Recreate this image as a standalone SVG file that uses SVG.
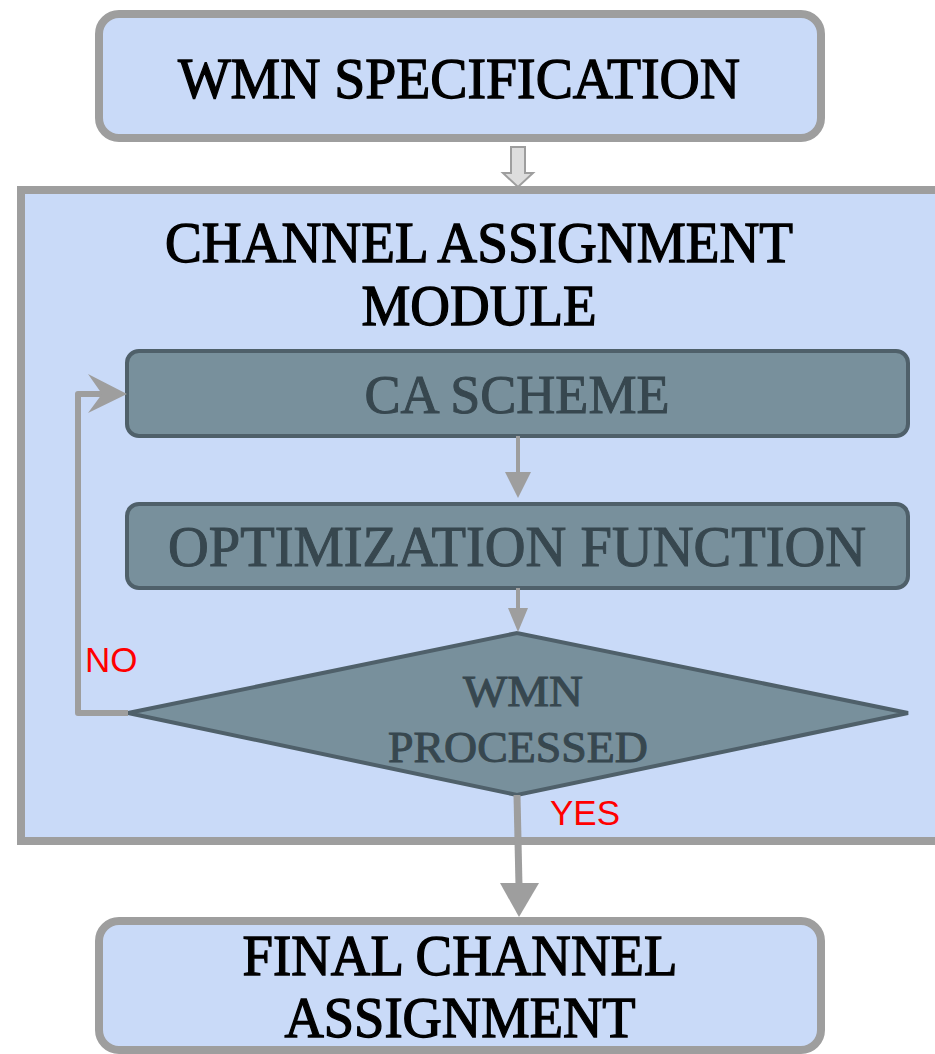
<svg xmlns="http://www.w3.org/2000/svg" width="935" height="1054" viewBox="0 0 935 1054">
  <style>
    .outer { fill: #c9daf8; stroke: #9e9e9e; stroke-width: 8; }
    .inner { fill: #78909c; stroke: #4f606a; stroke-width: 4; }
    .title { font-family: "Liberation Serif", "DejaVu Serif", serif; fill: #000; stroke: #000; stroke-width: 1.3; text-anchor: middle; }
    .step { font-family: "Liberation Serif", "DejaVu Serif", serif; fill: #37474f; stroke: #37474f; stroke-width: 1.0; text-anchor: middle; }
    .label { font-family: "Liberation Sans", Arial, sans-serif; fill: #ff0000; font-size: 35px; }
    .wire { fill: none; stroke: #9e9e9e; stroke-linejoin: round; }
    .head { fill: #9e9e9e; }
  </style>
  <rect width="935" height="1054" fill="#ffffff"/>

  <!-- Channel assignment module container (runs past the right edge) -->
  <g id="module">
    <rect class="outer" x="21" y="190" width="930" height="651"/>
    <text class="title" x="479" y="262" font-size="56" textLength="628" lengthAdjust="spacingAndGlyphs">CHANNEL ASSIGNMENT</text>
    <text class="title" x="479" y="325" font-size="56" textLength="235" lengthAdjust="spacingAndGlyphs">MODULE</text>
  </g>

  <g id="wmn-spec">
    <rect class="outer" x="99" y="14" width="722" height="124" rx="20"/>
    <text class="title" x="459" y="98" font-size="58" textLength="562" lengthAdjust="spacingAndGlyphs">WMN SPECIFICATION</text>
  </g>

  <g id="ca-scheme">
    <rect class="inner" x="127" y="351" width="781" height="85" rx="12"/>
    <text class="step" x="517" y="413" font-size="54" textLength="305" lengthAdjust="spacingAndGlyphs">CA SCHEME</text>
  </g>

  <g id="optimization">
    <rect class="inner" x="127" y="504" width="781" height="84" rx="12"/>
    <text class="step" x="517" y="566" font-size="56" textLength="698" lengthAdjust="spacingAndGlyphs">OPTIMIZATION FUNCTION</text>
  </g>

  <g id="decision">
    <polygon class="inner" points="128,713 517,633 908,713 517,795"/>
    <text class="step" x="523" y="706" font-size="44" textLength="120" lengthAdjust="spacingAndGlyphs">WMN</text>
    <text class="step" x="518" y="762" font-size="44" textLength="260" lengthAdjust="spacingAndGlyphs">PROCESSED</text>
  </g>

  <g id="final">
    <rect class="outer" x="99" y="921" width="722" height="129" rx="20"/>
    <text class="title" x="460" y="975" font-size="56" textLength="435" lengthAdjust="spacingAndGlyphs">FINAL CHANNEL</text>
    <text class="title" x="460" y="1037" font-size="56" textLength="351" lengthAdjust="spacingAndGlyphs">ASSIGNMENT</text>
  </g>

  <g id="connectors">
    <!-- hollow block arrow into the module -->
    <polygon points="511,147 525,147 525,173 533,173 518,187 503,173 511,173" fill="#dddddd" stroke="#9e9e9e" stroke-width="2"/>
    <!-- CA scheme to optimization -->
    <line class="wire" x1="518" y1="436" x2="518" y2="474" stroke-width="4"/>
    <polygon class="head" points="505,472 531,472 518,498"/>
    <!-- optimization to decision -->
    <line class="wire" x1="518" y1="588" x2="518" y2="610" stroke-width="4"/>
    <polygon class="head" points="508,608 528,608 518,632"/>
    <!-- NO loop back to CA scheme -->
    <polyline class="wire" points="128,713 78,713 78,394 104,394" stroke-width="6"/>
    <polygon class="head" points="127,394 88,374 102,394 88,413"/>
    <!-- YES to final assignment -->
    <line class="wire" x1="517" y1="795" x2="519" y2="886" stroke-width="7"/>
    <polygon class="head" points="500,883 539,883 519,917"/>
    <text class="label" x="85" y="672">NO</text>
    <text class="label" x="550" y="825">YES</text>
  </g>
</svg>
